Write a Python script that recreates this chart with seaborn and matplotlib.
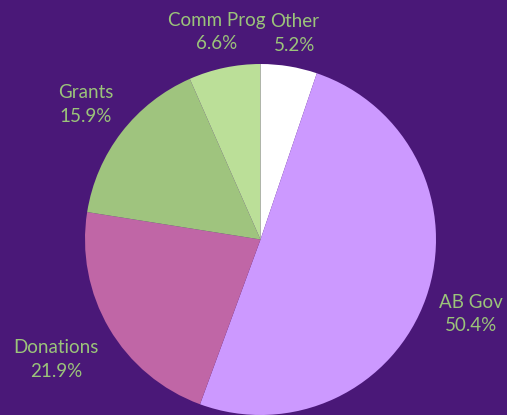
import matplotlib
matplotlib.use("Agg")
import matplotlib.pyplot as plt
import seaborn as sns
import numpy as np

categories = ["Other", "AB Gov", "Donations", "Grants", "Comm Prog"]
values = [5.2, 50.4, 21.9, 15.9, 6.6]
colors = ["#FFFFFF", "#CC99FF", "#C066A6", "#9FC47E", "#BBDF98"]
label_dist = [1.19, 1.27, 1.35, 1.26, 1.21]

sns.set_theme(style="white")
plt.rcParams["font.family"] = ["Lato", "DejaVu Sans"]

bg = "#4A1878"
txt = "#9BC47A"

fig = plt.figure(figsize=(5.07, 4.15), dpi=100)
fig.patch.set_facecolor(bg)
ax = fig.add_axes([0, 0, 1, 1])
ax.set_facecolor(bg)

wedges, _ = ax.pie(values, colors=colors, startangle=90, counterclock=False,
                   radius=1.0, wedgeprops=dict(linewidth=0))

total = sum(values)
cum = 0
for cat, v, d in zip(categories, values, label_dist):
    mid = 90 - (cum + v / 2) / total * 360
    cum += v
    th = np.deg2rad(mid)
    ax.text(d * np.cos(th), d * np.sin(th), f"{cat}\n{v:.1f}%", ha="center", va="center",
            color=txt, fontsize=13.5, linespacing=1.45)

cx, cy, R = 260.5, 239.5, 175.5
ax.set_xlim(-cx / R, (507 - cx) / R)
ax.set_ylim(-(415 - cy) / R, cy / R)
ax.set_aspect("auto")
ax.axis("off")

fig.savefig("out.png", dpi=100, facecolor=bg)
